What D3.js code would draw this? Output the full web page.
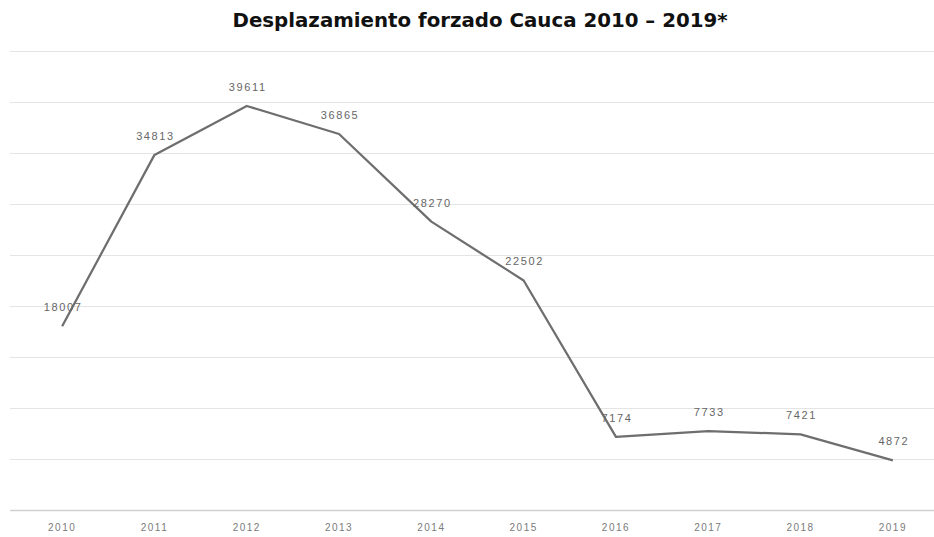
<!DOCTYPE html>
<html><head><meta charset="utf-8">
<script src="https://cdn.jsdelivr.net/npm/d3@7"></script>
<style>
html,body{margin:0;padding:0;background:#fff;}
</style></head>
<body><svg id="chart" width="934" height="537"></svg>
<script>
const years = ["2010","2011","2012","2013","2014","2015","2016","2017","2018","2019"];
const values = [18007, 34813, 39611, 36865, 28270, 22502, 7174, 7733, 7421, 4872];
const yTicks = [0, 5000, 10000, 15000, 20000, 25000, 30000, 35000, 40000, 45000];
const title = "Desplazamiento forzado Cauca 2010 – 2019*";

const svg = d3.select("#chart");
const x = d3.scaleBand().domain(years).range([16, 939]);
const y = d3.scaleLinear().domain([0, 45000]).range([510, 51]);

svg.append("text")
  .attr("x", 480).attr("y", 27)
  .attr("text-anchor", "middle")
  .attr("font-family", "DejaVu Sans, Verdana, sans-serif")
  .attr("font-weight", "bold")
  .attr("font-size", 19.8)
  .attr("fill", "#111")
  .text(title);

// gridlines
svg.append("g").selectAll("line").data(yTicks).join("line")
  .attr("x1", 10).attr("x2", 934)
  .attr("y1", d => Math.round(y(d)) + 0.5).attr("y2", d => Math.round(y(d)) + 0.5)
  .attr("stroke", d => d === 0 ? "#d0d0d0" : "#e4e4e4")
  .attr("stroke-width", d => d === 0 ? 1.5 : 1);

// x axis labels
const xAxis = d3.axisBottom(x).tickSize(0).tickPadding(0);
const gx = svg.append("g").attr("transform", "translate(0,524)").call(xAxis);
gx.select(".domain").remove();
gx.selectAll("text")
  .attr("font-family", "Liberation Sans, Arial, sans-serif")
  .attr("font-size", 10)
  .attr("letter-spacing", 1.5)
  .attr("fill", "#7a7a7a");

const cx = d => x(d) + x.bandwidth() / 2;
const data = years.map((yr, i) => ({yr, v: values[i]}));

svg.append("path").datum(data)
  .attr("fill", "none")
  .attr("stroke", "#6e6e6e")
  .attr("stroke-width", 2.25)
  .attr("stroke-linejoin", "round")
  .attr("d", d3.line().x(d => cx(d.yr)).y(d => y(d.v)));

svg.append("g").selectAll("text").data(data).join("text")
  .attr("x", d => cx(d.yr) + 1)
  .attr("y", d => y(d.v) - 15)
  .attr("text-anchor", "middle")
  .attr("font-family", "Liberation Sans, Arial, sans-serif")
  .attr("font-size", 11)
  .attr("letter-spacing", 1.6)
  .attr("fill", "#666")
  .text(d => d.v);
</script>
</body></html>
